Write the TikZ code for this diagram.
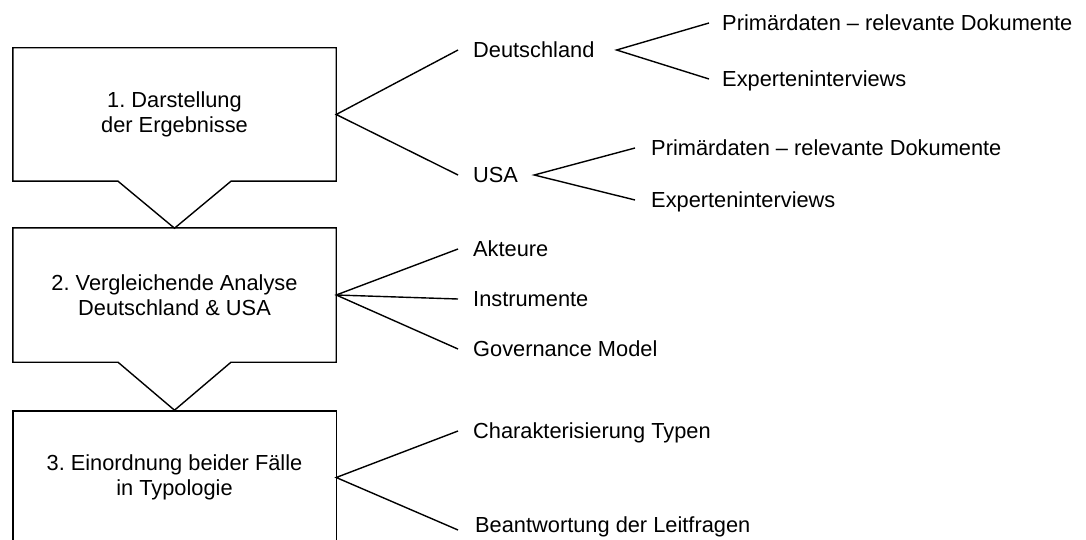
\documentclass[tikz,border=0pt]{standalone}
\usepackage{fontspec}
\setmainfont{Liberation Sans}
\usetikzlibrary{calc}
\frenchspacing
\begin{document}
\begin{tikzpicture}[x=1pt,y=-1pt,
  every node/.style={font=\fontsize{21.8}{25}\selectfont},
  stage/.style={minimum width=323pt, minimum height=133pt, inner sep=0pt, align=center},
  item/.style={anchor=west, inner sep=0pt, text height=15.6pt, text depth=0pt},
  link/.style={line width=1.4pt, line join=miter}
]
\path[use as bounding box, clip] (0,0) rectangle (1086,540);

% the three stages
\node[stage] (b1) at (174.5,114.5) {1. Darstellung\\der Ergebnisse};
\node[stage, minimum height=134pt] (b2) at (174.5,295) {2. Vergleichende Analyse\\Deutschland \& USA};
\node[stage] (b3) at (174.5,477.5) {3. Einordnung beider Fälle\\in Typologie};

% stage outlines with their downward pointers
\draw[link] (b1.north west) -- (b1.north east) -- (b1.south east)
  -- ($(b1.south)+(56.5,0)$) -- ($(b1.south)+(0,47)$) -- ($(b1.south)+(-56.5,0)$)
  -- (b1.south west) -- cycle;
\draw[link] (b2.north west) -- (b2.north east) -- (b2.south east)
  -- ($(b2.south)+(56.5,0)$) -- ($(b2.south)+(0,48)$) -- ($(b2.south)+(-56.5,0)$)
  -- (b2.south west) -- cycle;
\draw[link] (b3.north west) -- (b3.north east) -- (b3.south east)
  -- (b3.south west) -- cycle;

% items of stage 1
\node[item] (de) at (473,50) {Deutschland};
\node[item] (usa) at (473,175) {USA};
\node[item] (dp) at (722,23) {Primärdaten – relevante Dokumente};
\node[item] (dx) at (722,79) {Experteninterviews};
\node[item] (up) at (651,148) {Primärdaten – relevante Dokumente};
\node[item] (ux) at (651,200) {Experteninterviews};

% items of stage 2
\node[item] (ak) at (473,249) {Akteure};
\node[item] (ins) at (473,299) {Instrumente};
\node[item] (gm) at (473,349) {Governance Model};

% items of stage 3
\node[item] (ch) at (473,431) {Charakterisierung Typen};
\node[item] (be) at (475,525) {Beantwortung der Leitfragen};

% branches
\draw[link] ([xshift=-15pt]de.west) -- (b1.east) -- ([xshift=-15pt]usa.west);
\coordinate (dA) at ([xshift=22pt]de.east);
\draw[link] ([xshift=-13pt]dp.west) -- (dA) -- ([xshift=-13pt]dx.west);
\coordinate (uA) at ([xshift=16pt]usa.east);
\draw[link] ([xshift=-16pt]up.west) -- (uA) -- ([xshift=-16pt]ux.west);

\draw[link] ([xshift=-15pt]ak.west) -- (b2.east) -- ([xshift=-15pt]gm.west);
\draw[link] (b2.east) -- ([xshift=-15pt]ins.west);

\draw[link] ([xshift=-15pt]ch.west) -- (b3.east) -- ([xshift=-17pt,yshift=-5pt]be.west);
\end{tikzpicture}
\end{document}
